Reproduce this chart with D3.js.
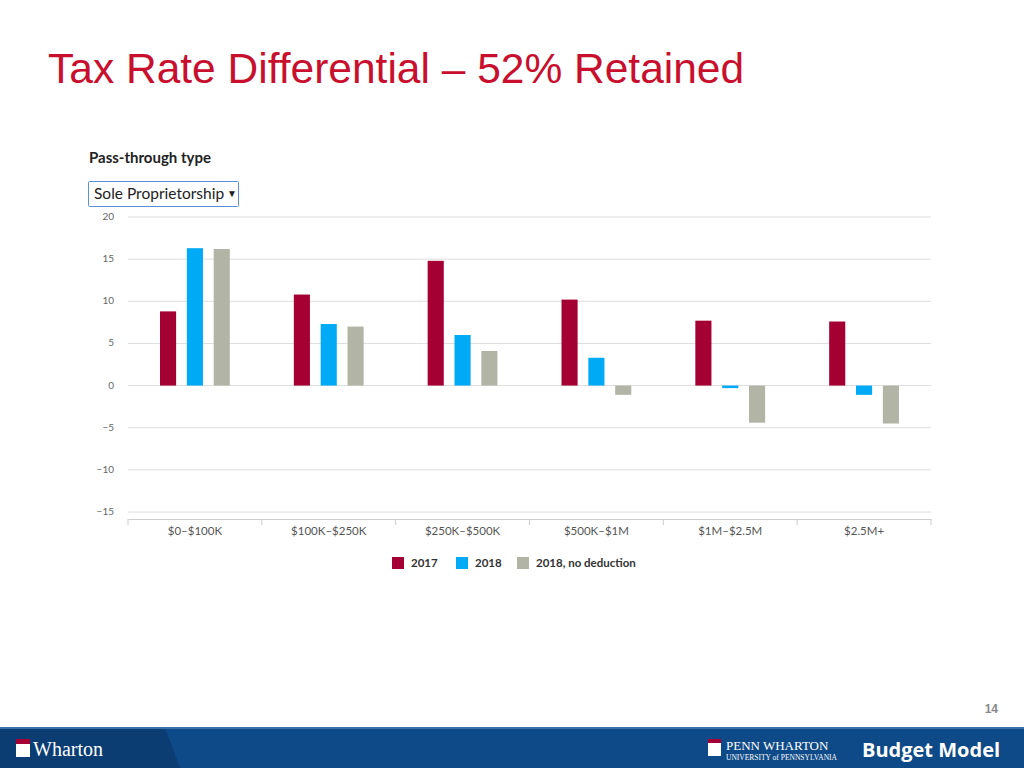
<!DOCTYPE html>
<html>
<head>
<meta charset="utf-8" />
<script src="https://d3js.org/d3.v7.min.js"></script>
<style>
  body { margin: 0; background: #fff; }
  svg { display: block; font-family: "Liberation Sans", Arial, sans-serif; }
</style>
</head>
<body>
<script>
  var categories = ["$0\u2013$100K", "$100K\u2013$250K", "$250K\u2013$500K", "$500K\u2013$1M", "$1M\u2013$2.5M", "$2.5M+"];
  var seriesNames = ["2017", "2018", "2018, no deduction"];
  var v2017 = [8.8, 10.8, 14.8, 10.2, 7.7, 7.6];
  var v2018 = [16.3, 7.3, 6.0, 3.3, -0.3, -1.1];
  var vNoDed = [16.2, 7.0, 4.1, -1.1, -4.4, -4.5];
  var yTicks = [20, 15, 10, 5, 0, -5, -10, -15];
  var colors = ["#a50034", "#00aaf5", "#b2b5a5"];

  var width = 1024, height = 768;
  var svg = d3.select("body").append("svg").attr("width", width).attr("height", height);

  svg.append("text").attr("x", 48).attr("y", 83)
    .attr("font-size", 42.5).attr("fill", "#c8102e")
    .text("Tax Rate Differential \u2013 52% Retained");

  svg.append("text").attr("x", 89).attr("y", 163)
    .attr("font-size", 15).attr("font-weight", "bold").attr("fill", "#222")
    .attr("font-family", "Lato, sans-serif")
    .text("Pass-through type");
  svg.append("rect").attr("x", 88.5).attr("y", 181.5).attr("width", 150).attr("height", 25)
    .attr("fill", "#fff").attr("stroke", "#5b8fd6").attr("rx", 1);
  svg.append("text").attr("x", 94).attr("y", 199)
    .attr("font-size", 15.5).attr("fill", "#222").attr("font-family", "Lato, sans-serif")
    .text("Sole Proprietorship");
  svg.append("text").attr("x", 227).attr("y", 197)
    .attr("font-size", 10).attr("fill", "#222").text("\u25bc");

  var x = d3.scaleBand().domain(categories).range([128, 931]);
  var y = d3.scaleLinear().domain([-15, 20]).range([512, 217]);

  var g = svg.append("g");
  yTicks.forEach(function (t) {
    g.append("line").attr("x1", 128).attr("x2", 931).attr("y1", y(t)).attr("y2", y(t))
      .attr("stroke", "#ddd").attr("stroke-width", 1);
    g.append("text").attr("x", 114).attr("y", y(t) + 3).attr("text-anchor", "end")
      .attr("font-size", 10).attr("fill", "#666").attr("font-family", "Lato, sans-serif")
      .text(t < 0 ? "\u2212" + Math.abs(t) : t);
  });

  var xAxis = svg.append("g").attr("transform", "translate(0,519)")
    .call(d3.axisBottom(x).tickSize(0).tickPadding(8));
  xAxis.select(".domain").attr("stroke", "#ccc");
  xAxis.selectAll("text").attr("font-size", 11.5).attr("fill", "#555").attr("font-family", "Lato, sans-serif");
  d3.range(categories.length + 1).forEach(function (i) {
    var xx = 128 + i * x.bandwidth();
    xAxis.append("line").attr("x1", xx).attr("x2", xx).attr("y1", 0).attr("y2", 6).attr("stroke", "#ccc");
  });

  var inner = d3.scaleBand().domain(seriesNames).range([0, 69.8]).paddingInner(0.4);
  var allSeries = [v2017, v2018, vNoDed];
  allSeries.forEach(function (vals, si) {
    g.selectAll(null).data(vals).enter().append("rect")
      .attr("x", function (d, i) { return x(categories[i]) + 32 + inner(seriesNames[si]); })
      .attr("width", inner.bandwidth())
      .attr("y", function (d) { return y(Math.max(0, d)); })
      .attr("height", function (d) { return Math.abs(y(d) - y(0)); })
      .attr("fill", colors[si]);
  });

  var legX = [392, 456, 517];
  seriesNames.forEach(function (s, i) {
    svg.append("rect").attr("x", legX[i]).attr("y", 557).attr("width", 12).attr("height", 12).attr("fill", colors[i]);
    svg.append("text").attr("x", legX[i] + 19).attr("y", 567).attr("font-size", 11.5)
      .attr("font-weight", "bold").attr("fill", "#333").attr("font-family", "Lato, sans-serif").text(s);
  });

  svg.append("text").attr("x", 998).attr("y", 713).attr("text-anchor", "end")
    .attr("font-size", 12).attr("font-weight", "bold").attr("fill", "#888").text("14");

  svg.append("rect").attr("x", 0).attr("y", 728).attr("width", width).attr("height", 40).attr("fill", "#0e4a87");
  svg.append("path").attr("d", "M0,728 L165,728 L180,768 L0,768 Z").attr("fill", "#0b3d73");
  svg.append("rect").attr("x", 0).attr("y", 727).attr("width", width).attr("height", 2).attr("fill", "#3a6fa8");
  svg.append("rect").attr("x", 16).attr("y", 739).attr("width", 14).attr("height", 18).attr("fill", "#fff");
  svg.append("rect").attr("x", 16).attr("y", 739).attr("width", 14).attr("height", 5).attr("fill", "#a50034");
  svg.append("text").attr("x", 33).attr("y", 756).attr("font-size", 20).attr("fill", "#fff")
    .attr("font-family", "Liberation Serif, serif").text("Wharton");
  svg.append("rect").attr("x", 708).attr("y", 739).attr("width", 13).attr("height", 17).attr("fill", "#fff");
  svg.append("rect").attr("x", 708).attr("y", 739).attr("width", 13).attr("height", 4).attr("fill", "#a50034");
  svg.append("text").attr("x", 726).attr("y", 750).attr("font-size", 13).attr("fill", "#fff")
    .attr("font-family", "Liberation Serif, serif").text("PENN WHARTON");
  svg.append("text").attr("x", 726).attr("y", 760).attr("font-size", 7.5).attr("fill", "#fff")
    .attr("font-family", "Liberation Serif, serif").text("UNIVERSITY of PENNSYLVANIA");
  svg.append("text").attr("x", 862).attr("y", 757).attr("font-size", 20).attr("font-weight", "bold")
    .attr("fill", "#fff").attr("font-family", "Open Sans, sans-serif").text("Budget Model");
</script>
</body>
</html>
